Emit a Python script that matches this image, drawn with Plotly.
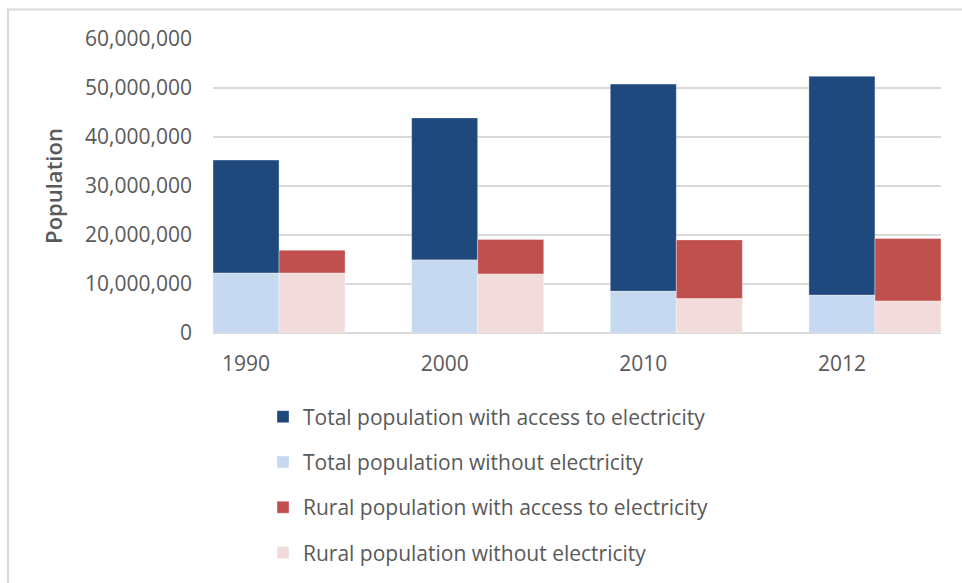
import plotly.graph_objects as go

years = ["1990", "2000", "2010", "2012"]
total_without = [12200000, 14900000, 8500000, 7700000]
total_with = [23100000, 29000000, 42300000, 44700000]
rural_without = [12200000, 12000000, 7000000, 6500000]
rural_with = [4700000, 7100000, 12000000, 12800000]

names = [
    "Total population with access to electricity",
    "Total population without electricity",
    "Rural population with access to electricity",
    "Rural population without electricity",
]
colors = ["#1F497D", "#C6D9F1", "#C0504D", "#F2DCDB"]

FONT = "Open Sans"
GRAY = "#595959"
W = 0.3325
xs = list(range(len(years)))

fig = go.Figure()
series = [
    (total_with, total_without, -W / 2),
    (total_without, None, -W / 2),
    (rural_with, rural_without, W / 2),
    (rural_without, None, W / 2),
]
for i, (vals, base, offset) in enumerate(series):
    fig.add_trace(go.Bar(
        x=xs, y=vals, base=base if base is not None else [0] * len(vals),
        width=W, offset=offset,
        name=names[i], legendgroup=str(i),
        marker=dict(color=colors[i], line=dict(width=1, color="rgba(255,255,255,0.35)")),
    ))

L, R, T, B = 213, 21, 39, 250
pw = 962 - L - R
ph = 583 - T - B

fig.update_layout(
    width=962, height=583,
    margin=dict(l=L, r=R, t=T, b=B, autoexpand=False),
    paper_bgcolor="white", plot_bgcolor="white",
    barmode="overlay",
    font=dict(family=FONT, color=GRAY, size=21),
    showlegend=True,
    legend=dict(
        x=(263 - L) / pw, xanchor="left",
        y=-0.216, yanchor="top",
        traceorder="grouped", tracegroupgap=15,
        font=dict(family=FONT, size=21, color=GRAY),
        bgcolor="rgba(0,0,0,0)",
    ),
    xaxis=dict(
        tickmode="array", tickvals=xs, ticktext=years,
        range=[-W / 2, len(years) - 1 + 1.5 * W],
        showgrid=False, zeroline=False, showline=False,
        ticks="", ticklabelstandoff=16,
        tickfont=dict(size=21, color=GRAY, family=FONT),
        fixedrange=True,
    ),
    yaxis=dict(
        range=[0, 60000000], dtick=10000000, tickformat=",d",
        showgrid=True, gridcolor="#D9D9D9", gridwidth=1.5,
        zeroline=True, zerolinecolor="#D9D9D9", zerolinewidth=1.5,
        showline=False, ticks="", ticklabelstandoff=20,
        tickfont=dict(size=21, color=GRAY, family=FONT),
        title=dict(text="Population", standoff=16,
                   font=dict(size=22, color=GRAY, family=FONT, weight=600)),
    ),
    shapes=[
        dict(type="line", xref="paper", yref="paper",
             x0=(7 - L) / pw, x1=(962 - L) / pw,
             y0=(583 - B - 9.5) / ph, y1=(583 - B - 9.5) / ph,
             line=dict(color="#D9D9D9", width=2)),
        dict(type="line", xref="paper", yref="paper",
             x0=(8 - L) / pw, x1=(8 - L) / pw,
             y0=(583 - B - 9.5) / ph, y1=(583 - B - 583) / ph,
             line=dict(color="#D9D9D9", width=2)),
    ],
)

fig.write_html("out.html")
